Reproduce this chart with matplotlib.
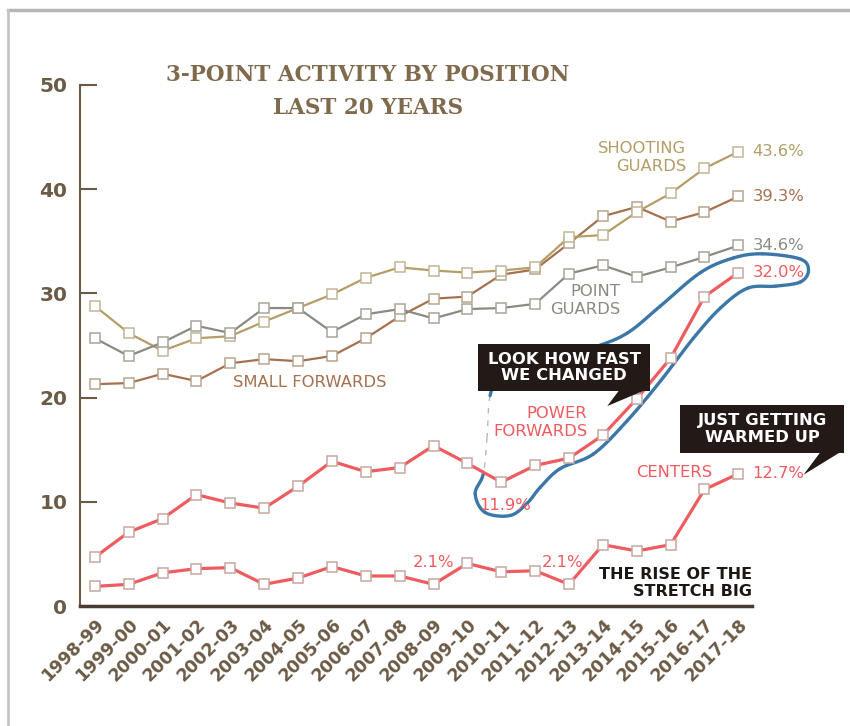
import numpy as np
import matplotlib.pyplot as plt
from matplotlib.patches import Rectangle, Polygon
from matplotlib.lines import Line2D

seasons = ['1998-99', '1999-00', '2000-01', '2001-02', '2002-03', '2003-04', '2004-05',
           '2005-06', '2006-07', '2007-08', '2008-09', '2009-10', '2010-11', '2011-12',
           '2012-13', '2013-14', '2014-15', '2015-16', '2016-17', '2017-18']
shooting_guards = [28.8, 26.2, 24.5, 25.7, 25.9, 27.3, 28.6, 29.9, 31.5, 32.5, 32.2, 32.0,
                   32.2, 32.5, 35.4, 35.6, 37.8, 39.6, 42.0, 43.6]
small_forwards = [21.3, 21.4, 22.3, 21.6, 23.3, 23.7, 23.5, 24.0, 25.7, 27.8, 29.5, 29.7,
                  31.8, 32.3, 34.8, 37.4, 38.3, 36.9, 37.8, 39.3]
point_guards = [25.7, 24.0, 25.3, 26.9, 26.2, 28.6, 28.6, 26.3, 28.0, 28.5, 27.6, 28.5,
                28.6, 29.0, 31.9, 32.7, 31.6, 32.5, 33.5, 34.6]
power_forwards = [4.7, 7.1, 8.4, 10.7, 9.9, 9.4, 11.5, 13.9, 12.9, 13.3, 15.4, 13.7,
                  11.9, 13.5, 14.2, 16.4, 19.9, 23.8, 29.7, 32.0]
centers = [1.9, 2.1, 3.2, 3.6, 3.7, 2.1, 2.7, 3.8, 2.9, 2.9, 2.1, 4.1, 3.3, 3.4, 2.1,
           5.9, 5.3, 5.9, 11.2, 12.7]

# hand drawn lasso around the power forwards climb (data coords)
loop_x = [11.67, 11.58, 11.47, 11.23, 11.52, 12.26, 12.77, 13.15, 13.74, 14.72, 15.72, 16.70,
          17.67, 18.47, 19.27, 20.10, 20.83, 21.07, 20.83, 19.71, 18.85, 17.88, 16.70, 15.72,
          14.72, 13.15, 11.97]
loop_y = [20.2, 16.2, 12.7, 10.8, 9.0, 8.7, 9.9, 11.4, 13.2, 14.6, 17.8, 21.6, 25.7, 28.6,
          30.5, 30.7, 31.1, 32.2, 33.3, 33.8, 33.4, 32.0, 28.8, 26.2, 24.8, 23.1, 21.4]

tan = '#b49d67'
brown = '#a5714f'
grey = '#8b8a82'
red = '#ee5c60'
axis_c = '#6b5a45'
box_c = '#231a17'

fig = plt.figure(figsize=(8.5, 7.26), dpi=100)
ax = fig.add_axes([0.094, 0.165, 0.791, 0.718])
x = np.arange(len(seasons))


def series(vals, col, edge, lw):
    ax.plot(x, vals, color=col, lw=lw, marker='s', ms=7.5, mfc='white', mec=edge,
            mew=1.1, zorder=3, clip_on=False)


series(small_forwards, brown, '#b8a48e', 1.6)
series(shooting_guards, tan, '#c2b496', 1.6)
series(point_guards, grey, '#a8a49a', 1.6)
series(power_forwards, red, '#c9a7a0', 2.3)
series(centers, red, '#c9a7a0', 2.3)

ax.set_xlim(-0.44, 19.41)
ax.set_ylim(0, 50)
ax.set_yticks([0, 10, 20, 30, 40, 50])
ax.set_xticks(x)
ax.set_xticklabels(seasons, rotation=45, ha='right', va='top', rotation_mode='anchor',
                   fontsize=12.5, fontweight='bold', color=axis_c)
ax.tick_params(axis='x', length=0, pad=7)
ax.tick_params(axis='y', direction='in', length=12, width=1.5, color=axis_c, pad=9,
               labelsize=14.5, labelcolor=axis_c)
for lab in ax.get_yticklabels():
    lab.set_fontweight('bold')
for s in ['top', 'right']:
    ax.spines[s].set_visible(False)
ax.spines['left'].set_color(axis_c)
ax.spines['left'].set_linewidth(1.5)
ax.spines['bottom'].set_color('#4a3a30')
ax.spines['bottom'].set_linewidth(2.5)

# lasso: smooth closed curve through the anchors
px = np.array(loop_x)
py = np.array(loop_y)
n = len(px)
segs = []
for i in range(n):
    p0, p1, p2, p3 = [np.array((px[(i + k) % n], py[(i + k) % n])) for k in (-1, 0, 1, 2)]
    t = np.linspace(0, 1, 16)[:, None]
    pts = 0.5 * ((2 * p1) + (-p0 + p2) * t + (2 * p0 - 5 * p1 + 4 * p2 - p3) * t ** 2
                 + (-p0 + 3 * p1 - 3 * p2 + p3) * t ** 3)
    segs.append(pts)
for i, pts in enumerate(segs):
    if i in (0, 1):
        ax.plot(pts[:, 0], pts[:, 1], color='#9a9a9a', lw=1.0, ls=(0, (4, 5)),
                alpha=0.7, clip_on=False, zorder=2)
    else:
        ax.plot(pts[:, 0], pts[:, 1], color='#3b77a8', lw=2.4, clip_on=False, zorder=2,
                solid_capstyle='round')

# series labels
lab_kw = dict(fontsize=11.8, family='DejaVu Sans', zorder=5)
ax.text(17.46, 43.0, 'SHOOTING\nGUARDS', color=tan, ha='right', va='center',
        multialignment='right', linespacing=1.25, **lab_kw)
ax.text(15.51, 29.3, 'POINT\nGUARDS', color=grey, ha='right', va='center',
        multialignment='right', linespacing=1.25, **lab_kw)
ax.text(4.08, 21.5, 'SMALL FORWARDS', color=brown, ha='left', va='center', **lab_kw)
ax.text(14.54, 17.6, 'POWER\nFORWARDS', color=red, ha='right', va='center',
        multialignment='right', linespacing=1.25, **lab_kw)
ax.text(18.23, 12.8, 'CENTERS', color=red, ha='right', va='center', **lab_kw)

end_vals = [(shooting_guards, tan, '43.6%'), (small_forwards, brown, '39.3%'),
            (point_guards, grey, '34.6%'), (power_forwards, red, '32.0%'),
            (centers, red, '12.7%')]
for vals, col, txt in end_vals:
    ax.annotate(txt, (x[-1], vals[-1]), xytext=(10, 0), textcoords='offset points',
                color=col, ha='left', va='center', annotation_clip=False, **lab_kw)

ax.annotate('11.9%', (x[12], power_forwards[12]), xytext=(3, -17), textcoords='offset points',
            color=red, ha='center', va='center', **lab_kw)
ax.annotate('2.1%', (x[10], centers[10]), xytext=(0, 16), textcoords='offset points',
            color=red, ha='center', va='center', **lab_kw)
ax.annotate('2.1%', (x[14], centers[14]), xytext=(-5, 16), textcoords='offset points',
            color=red, ha='center', va='center', **lab_kw)
ax.text(19.41, 2.2, 'THE RISE OF THE\nSTRETCH BIG', color='#1d1714', ha='right',
        va='center', multialignment='right', fontsize=11.5, fontweight='bold',
        linespacing=1.2, zorder=5)

# callout boxes
ax.add_patch(Rectangle((11.32, 20.67), 5.08, 4.5, fc=box_c, ec='none', zorder=6,
                       clip_on=False))
ax.add_patch(Polygon([(15.5, 20.8), (16.3, 20.8), (15.13, 19.2)], closed=True, fc=box_c,
                     ec='none', zorder=6, clip_on=False))
ax.text(13.86, 22.9, 'LOOK HOW FAST\nWE CHANGED', color='white', ha='center', va='center',
        fontsize=11.8, fontweight='bold', linespacing=1.15, zorder=7)

ax.add_patch(Rectangle((17.29, 14.74), 4.84, 4.59, fc=box_c, ec='none', zorder=6,
                       clip_on=False))
ax.add_patch(Polygon([(21.45, 14.9), (22.07, 14.9), (20.92, 12.6)], closed=True, fc=box_c,
                     ec='none', zorder=6, clip_on=False))
ax.text(19.71, 17.0, 'JUST GETTING\nWARMED UP', color='white', ha='center', va='center',
        fontsize=11.8, fontweight='bold', linespacing=1.15, zorder=7)

# title
fig.text(0.433, 0.897, '3-POINT ACTIVITY BY POSITION', ha='center', va='center',
         family='DejaVu Serif', fontweight='bold', fontsize=15.5, color='#7f6a4c')
fig.text(0.433, 0.851, 'LAST 20 YEARS', ha='center', va='center',
         family='DejaVu Serif', fontweight='bold', fontsize=15.5, color='#7f6a4c')

# page edge
fig.add_artist(Line2D([0.009, 1.0], [0.986, 0.986], color='#b5b5b5', lw=2.5))
fig.add_artist(Line2D([0.009, 0.009], [0.0, 0.986], color='#c5c5c5', lw=2.0))

fig.savefig('out.png', dpi=100)
